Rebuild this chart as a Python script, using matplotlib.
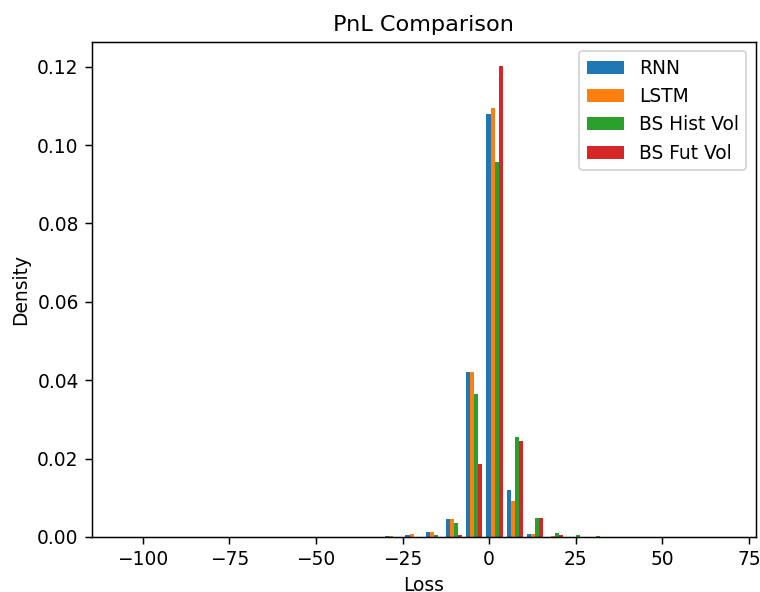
import numpy as np
import matplotlib
matplotlib.use("Agg")
import matplotlib.pyplot as plt

# Histogram layout: 30 bins spanning the data range
bin_lo, bin_hi, n_bins = -106.6, 68.8, 30
edges = np.linspace(bin_lo, bin_hi, n_bins + 1)
centers = (edges[:-1] + edges[1:]) / 2

labels = ["RNN", "LSTM", "BS Hist Vol", "BS Fut Vol"]

# Density per bin (bins 13..23 are non-zero; others ~0)
rnn = np.zeros(n_bins)
lstm = np.zeros(n_bins)
bs_hist = np.zeros(n_bins)
bs_fut = np.zeros(n_bins)

#            bin: 13      14      15      16      17      18      19      20      21      22      23
rnn_vals  = [0.0002, 0.0004, 0.0012, 0.0045, 0.0420, 0.1080, 0.0119, 0.0007, 0.0000, 0.0000, 0.0000]
lstm_vals = [0.0002, 0.0007, 0.0012, 0.0045, 0.0420, 0.1096, 0.0093, 0.0007, 0.0002, 0.0000, 0.0000]
hist_vals = [0.0000, 0.0000, 0.0004, 0.0037, 0.0364, 0.0958, 0.0256, 0.0048, 0.0010, 0.0004, 0.0002]
fut_vals  = [0.0000, 0.0000, 0.0000, 0.0006, 0.0186, 0.1203, 0.0246, 0.0048, 0.0004, 0.0000, 0.0000]
rnn[13:24] = rnn_vals
lstm[13:24] = lstm_vals
bs_hist[13:24] = hist_vals
bs_fut[13:24] = fut_vals

dpi = 134
fig = plt.figure(figsize=(760 / dpi, 592 / dpi), dpi=dpi)
ax = fig.add_axes([91.7 / 760, 55 / 592, 664 / 760, 495 / 592])

ax.hist([centers] * 4, bins=edges,
        weights=[rnn, lstm, bs_hist, bs_fut], label=labels)

ax.set_title("PnL Comparison")
ax.set_xlabel("Loss")
ax.set_ylabel("Density")
ax.legend(loc="upper right")

fig.savefig("out.png", dpi=dpi)
